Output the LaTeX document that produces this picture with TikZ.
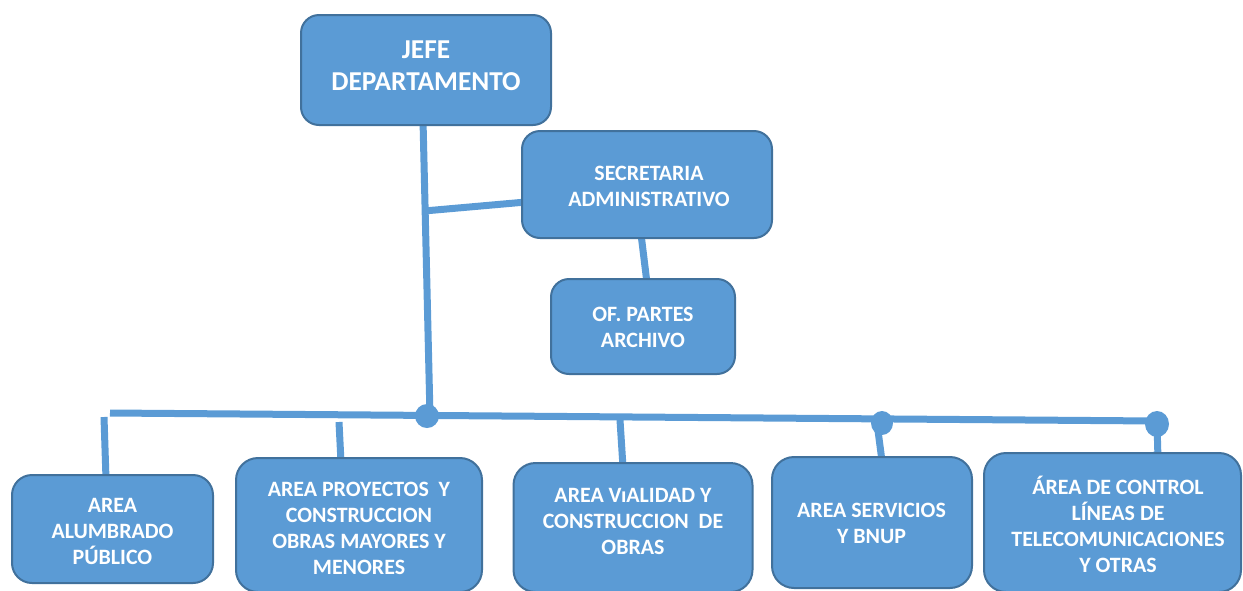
\documentclass[tikz,border=0pt]{standalone}
\usepackage{fontspec}
\setmainfont{Carlito}
\definecolor{boxfill}{RGB}{91,155,213}
\definecolor{boxedge}{RGB}{65,113,156}
\definecolor{linkc}{RGB}{91,155,213}
\tikzset{
  orgbox/.style={draw=boxedge, line width=2pt, fill=boxfill, rounded corners=18pt, inner sep=0pt, outer sep=0pt},
  bigtxt/.style={text=white, align=center, font=\fontsize{27.3}{32}\selectfont\bfseries, inner sep=0pt},
  txt/.style={text=white, align=center, font=\fontsize{21.9}{26}\selectfont\bfseries, inner sep=0pt},
  link/.style={draw=linkc, line width=7pt},
  dotc/.style={fill=linkc}
}
\begin{document}
\begin{tikzpicture}[x=1pt,y=-1pt]
\useasboundingbox (0,0) rectangle (1243,590);
\clip (0,0) rectangle (1243,590);
% connectors (behind boxes)
\coordinate (jtop) at (423,120);
\coordinate (jbot) at (430,416);
\coordinate (sj) at (424,211);
\coordinate (ss) at (526,202);
\coordinate (st) at (641,234);
\coordinate (sb) at (647,283);
\coordinate (hl) at (110,413);
\coordinate (hr) at (1157,421);
\coordinate (c1a) at (104,417);
\coordinate (c1b) at (106,479);
\coordinate (c2a) at (339,422);
\coordinate (c2b) at (341,462);
\coordinate (c3a) at (620,420);
\coordinate (c3b) at (623,467);
\coordinate (c4a) at (877,423);
\coordinate (c4b) at (882,461);
\coordinate (c5a) at (1157,423);
\coordinate (c5b) at (1158,459);
\draw[link] (jtop) -- (jbot);
\draw[link] (sj) -- (ss);
\draw[link] (st) -- (sb);
\draw[link] (hl) -- (hr);
\draw[link] (c1a) -- (c1b);
\draw[link] (c2a) -- (c2b);
\draw[link] (c3a) -- (c3b);
\draw[link] (c4a) -- (c4b);
\draw[link] (c5a) -- (c5b);
\fill[dotc] (427,416) circle (12);
\fill[dotc] (882,423) circle [x radius=11, y radius=12];
\fill[dotc] (1157,424) circle [x radius=12, y radius=13];
\fill[dotc] (1157,459) circle (8);
% boxes
\node[orgbox, minimum width=250pt, minimum height=110pt] (jefe) at (426,70) {};
\node[orgbox, minimum width=250pt, minimum height=107pt] (sec) at (647,184.5) {};
\node[orgbox, minimum width=184pt, minimum height=95pt] (ofp) at (643,326.5) {};
\node[orgbox, rounded corners=20pt, minimum width=201pt, minimum height=108pt] (b1) at (112.5,529) {};
\node[orgbox, rounded corners=22pt, minimum width=246pt, minimum height=134pt] (b2) at (359,525) {};
\node[orgbox, rounded corners=22pt, minimum width=239pt, minimum height=129pt] (b3) at (633,527.5) {};
\node[orgbox, rounded corners=22pt, minimum width=200pt, minimum height=131pt] (b4) at (872,522.5) {};
\node[orgbox, rounded corners=22pt, minimum width=257pt, minimum height=139pt] (b5) at (1112.5,522.5) {};
% texts
\node[bigtxt] (tjefe) at (426,66) {JEFE\\DEPARTAMENTO};
\node[txt] (tsec) at (649,186) {SECRETARIA\\ADMINISTRATIVO};
\node[txt] (tofp) at (643,327.5) {OF. PARTES\\ARCHIVO};
\node[txt] (t1) at (112.5,531) {AREA\\ALUMBRADO\\PÚBLICO};
\node[txt] (t2) at (359,528.5) {AREA PROYECTOS~ Y\\CONSTRUCCION\\OBRAS MAYORES Y\\MENORES};
\node[txt] (t3) at (633,521) {AREA VıALIDAD Y\\CONSTRUCCION~ DE\\OBRAS};
\node[txt] (t4) at (871.5,523.5) {AREA SERVICIOS\\Y BNUP};
\node[txt] (t5) at (1118,524) {ÁREA DE CONTROL\\LÍNEAS DE\\TELECOMUNICACIONES\\Y OTRAS};
\end{tikzpicture}
\end{document}
